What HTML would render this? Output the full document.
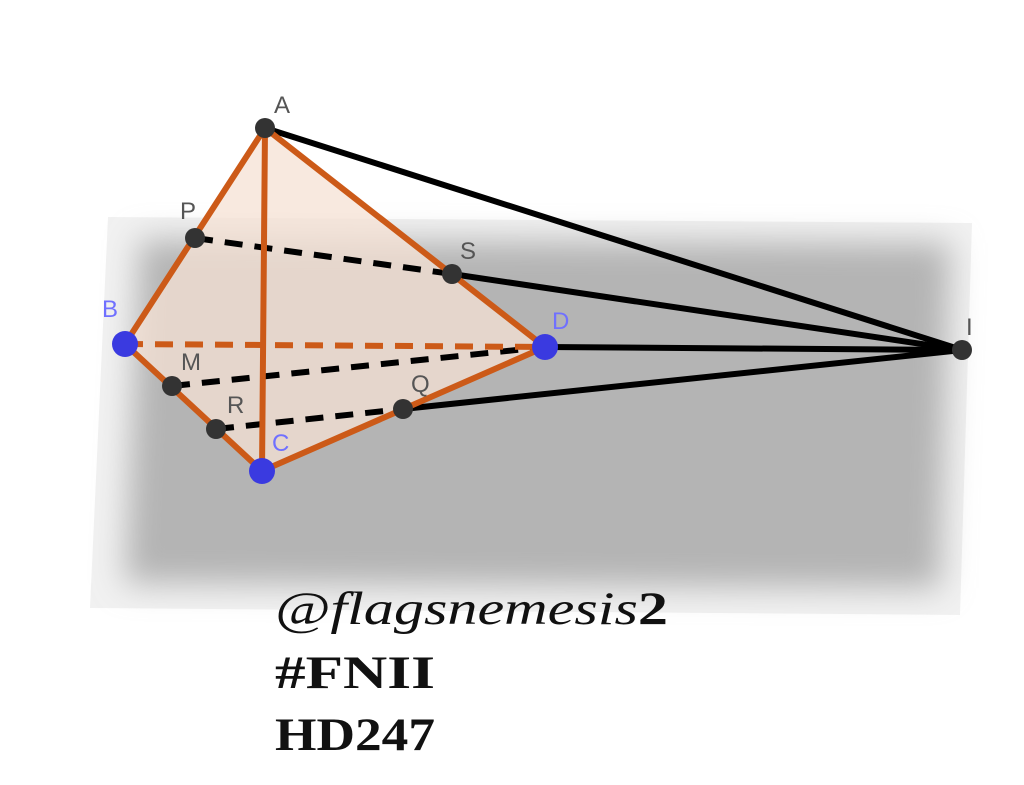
<!DOCTYPE html>
<html><head><meta charset="utf-8"><style>
html,body{margin:0;padding:0;background:#fff;}
svg{display:block}
</style></head><body>
<svg width="1024" height="785" viewBox="0 0 1024 785" xmlns="http://www.w3.org/2000/svg">
<defs>
<filter id="bl" x="-20%" y="-20%" width="140%" height="140%"><feGaussianBlur stdDeviation="16"/></filter>
</defs>
<polygon points="108,217 972,223 960,615 90,608" fill="#f1f1f1"/>
<polygon points="140,240 950,243 940,588 125,583" fill="#b4b4b4" filter="url(#bl)"/>
<polygon points="265,128 125,344 262,471 545,347" fill="#f6e2d4" fill-opacity="0.75"/>
<g stroke="#000" stroke-width="6" stroke-linecap="round">
<line x1="265" y1="128" x2="962" y2="350"/>
<line x1="452" y1="274" x2="962" y2="350"/>
<line x1="545" y1="347" x2="962" y2="350"/>
<line x1="403" y1="409" x2="962" y2="350"/>
</g>
<g stroke="#000" stroke-width="6" stroke-dasharray="18,12">
<line x1="195" y1="238" x2="452" y2="274"/>
<line x1="172" y1="386" x2="545" y2="347"/>
<line x1="216" y1="429" x2="403" y2="409"/>
</g>
<line x1="125" y1="344" x2="545" y2="347" stroke="#cc5a18" stroke-width="6" stroke-dasharray="18,12"/>
<g stroke="#cc5a18" stroke-width="6" stroke-linecap="round">
<line x1="265" y1="128" x2="125" y2="344"/>
<line x1="265" y1="128" x2="262" y2="471"/>
<line x1="265" y1="128" x2="545" y2="347"/>
<line x1="125" y1="344" x2="262" y2="471"/>
<line x1="262" y1="471" x2="545" y2="347"/>
</g>
<g fill="#333">
<circle cx="265" cy="128" r="10"/><circle cx="195" cy="238" r="10"/><circle cx="452" cy="274" r="10"/>
<circle cx="172" cy="386" r="10"/><circle cx="216" cy="429" r="10"/><circle cx="403" cy="409" r="10"/>
<circle cx="962" cy="350" r="10"/>
</g>
<g fill="#3a3ae0">
<circle cx="125" cy="344" r="13"/><circle cx="545" cy="347" r="13"/><circle cx="262" cy="471" r="13"/>
</g>
<g font-family="Liberation Sans, sans-serif" font-size="24" fill="#555">
<text x="274" y="113">A</text><text x="180" y="219">P</text><text x="460" y="259">S</text>
<text x="181" y="370">M</text><text x="227" y="413">R</text><text x="411" y="392">Q</text><text x="966" y="335">I</text>
</g>
<g font-family="Liberation Sans, sans-serif" font-size="24" fill="#7070ff">
<text x="102" y="317">B</text><text x="552" y="329">D</text><text x="272" y="451">C</text>
</g>
<g font-family="Liberation Serif, serif" font-size="47" fill="#111">
<text x="275" y="624" font-style="italic" textLength="393" lengthAdjust="spacingAndGlyphs">@flagsnemesis<tspan font-style="normal" font-weight="bold">2</tspan></text>
<text x="275" y="688" font-weight="bold" textLength="160" lengthAdjust="spacingAndGlyphs">#FNII</text>
<text x="275" y="750" font-weight="bold" textLength="160" lengthAdjust="spacingAndGlyphs">HD247</text>
</g>
</svg>
</body></html>
